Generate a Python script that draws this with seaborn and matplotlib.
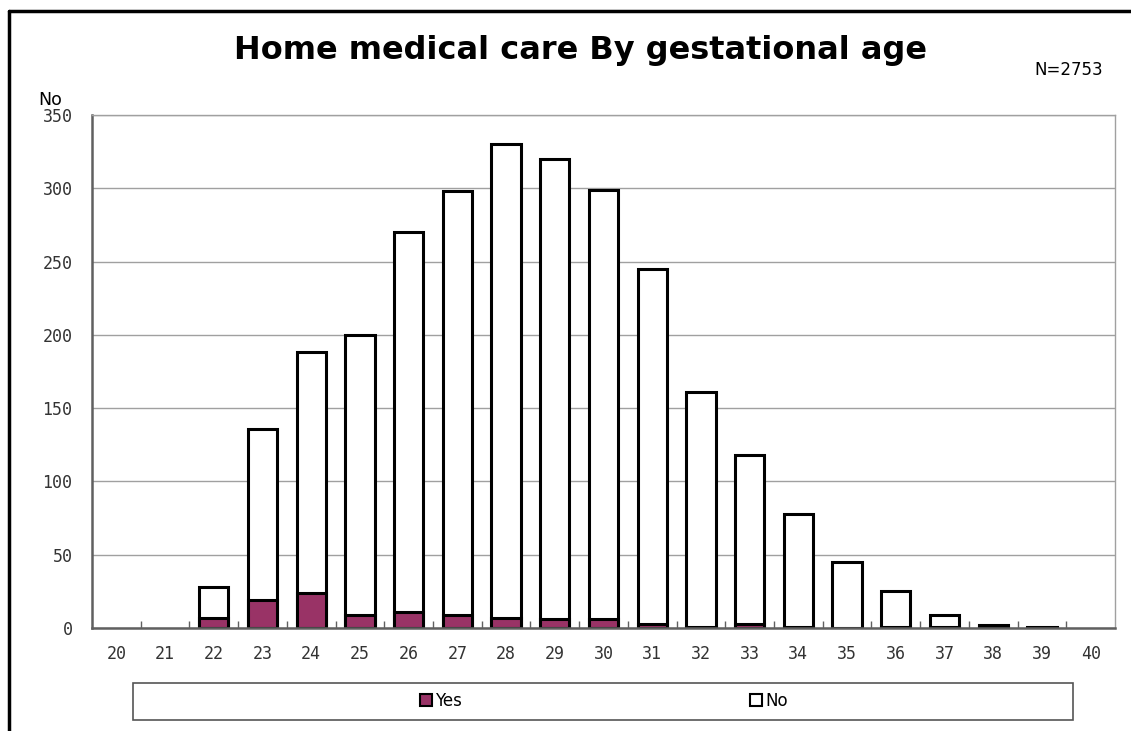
import matplotlib
matplotlib.use("Agg")
import matplotlib.pyplot as plt
from matplotlib.patches import Patch, Rectangle
from matplotlib.lines import Line2D
from matplotlib.ticker import MultipleLocator, FixedLocator
import numpy as np
import pandas as pd
import seaborn as sns

# gestational age (weeks) and counts
weeks = [str(w) for w in range(20, 41)]
total = [0, 0, 28, 136, 188, 200, 270, 298, 330, 320, 299, 245, 161, 118, 78, 45, 25, 9, 2, 1, 0]
yes = [0, 0, 7, 19, 24, 9, 11, 9, 7, 6, 6, 3, 1, 3, 1, 0, 1, 1, 1, 0, 0]
no = [t - y for t, y in zip(total, yes)]

df = pd.DataFrame({"week": weeks, "yes": yes, "no": no, "total": total})

sns.set_theme(style="white")
plt.rcParams['font.family'] = ['DejaVu Sans']
plt.rcParams['text.color'] = 'black'

fig = plt.figure(figsize=(11.31, 7.31), dpi=100)
ax = fig.add_axes([92 / 1131, 1 - 628 / 731, 1023 / 1131, 513 / 731])

# white "No" part drawn as the full stack height, "Yes" part on top of it from 0
sns.barplot(data=df, x="week", y="total", order=weeks, color="white",
            edgecolor="black", linewidth=2.2, width=0.6, saturation=1, ax=ax)
sns.barplot(data=df, x="week", y="yes", order=weeks, color="#993366",
            edgecolor="black", linewidth=2.2, width=0.6, saturation=1, ax=ax)

# empty weeks show nothing
for p in ax.patches:
    if p.get_height() == 0:
        p.set_visible(False)

ax.set_ylim(0, 350)
ax.set_xlim(-0.5, len(weeks) - 0.5)
ax.yaxis.set_major_locator(MultipleLocator(50))
ax.grid(axis="y", color="#a0a0a0", linewidth=1)
ax.set_axisbelow(True)
ax.set_xlabel("")
ax.set_ylabel("")

for side in ["top", "right"]:
    ax.spines[side].set_color("#a0a0a0")
    ax.spines[side].set_linewidth(1)
for side in ["left", "bottom"]:
    ax.spines[side].set_color("#606060")
    ax.spines[side].set_linewidth(1.8)

mono = "DejaVu Sans Mono"
ax.tick_params(axis="y", which="major", direction="out", length=4, width=1,
               color="#606060", labelsize=12, pad=10)
ax.tick_params(axis="x", which="major", length=0, labelsize=12, pad=12)
ax.xaxis.set_minor_locator(FixedLocator(np.arange(0.5, len(weeks) - 1, 1)))
ax.tick_params(axis="x", which="minor", direction="in", length=5, width=1,
               color="#606060", bottom=True)
for lab in ax.get_xticklabels() + ax.get_yticklabels():
    lab.set_family(mono)
    lab.set_color("#333333")

fig.text(0.513, 1 - 50 / 731, "Home medical care By gestational age",
         ha="center", va="center", fontsize=23, fontweight="bold",
         family="DejaVu Sans", color="black")
fig.text(38 / 1131, 1 - 100 / 731, "No", ha="left", va="center", fontsize=12.5)
fig.text(1103 / 1131, 1 - 70 / 731, "N=2753", ha="right", va="center", fontsize=12)

# outer frame (left and top only)
fig.add_artist(Line2D([8.5 / 1131, 8.5 / 1131], [0, 1 - 11 / 731],
                      color="black", linewidth=2.5, transform=fig.transFigure))
fig.add_artist(Line2D([8.5 / 1131, 1], [1 - 11 / 731, 1 - 11 / 731],
                      color="black", linewidth=2.5, transform=fig.transFigure))

# legend box
fig.add_artist(Rectangle((133 / 1131, 1 - 720 / 731), 940 / 1131, 37 / 731,
                         transform=fig.transFigure, fill=False,
                         edgecolor="#555555", linewidth=1.2))
handles = [Patch(facecolor="#993366", edgecolor="black", linewidth=1.5, label="Yes"),
           Patch(facecolor="white", edgecolor="black", linewidth=1.5, label="No")]
fig.legend(handles=handles, loc="center", bbox_to_anchor=(604 / 1131, 1 - 701 / 731),
           ncol=2, frameon=False, fontsize=12, handlelength=0.7, handleheight=0.7,
           handletextpad=0.2, columnspacing=17.3)

fig.savefig("out.png", dpi=100)
